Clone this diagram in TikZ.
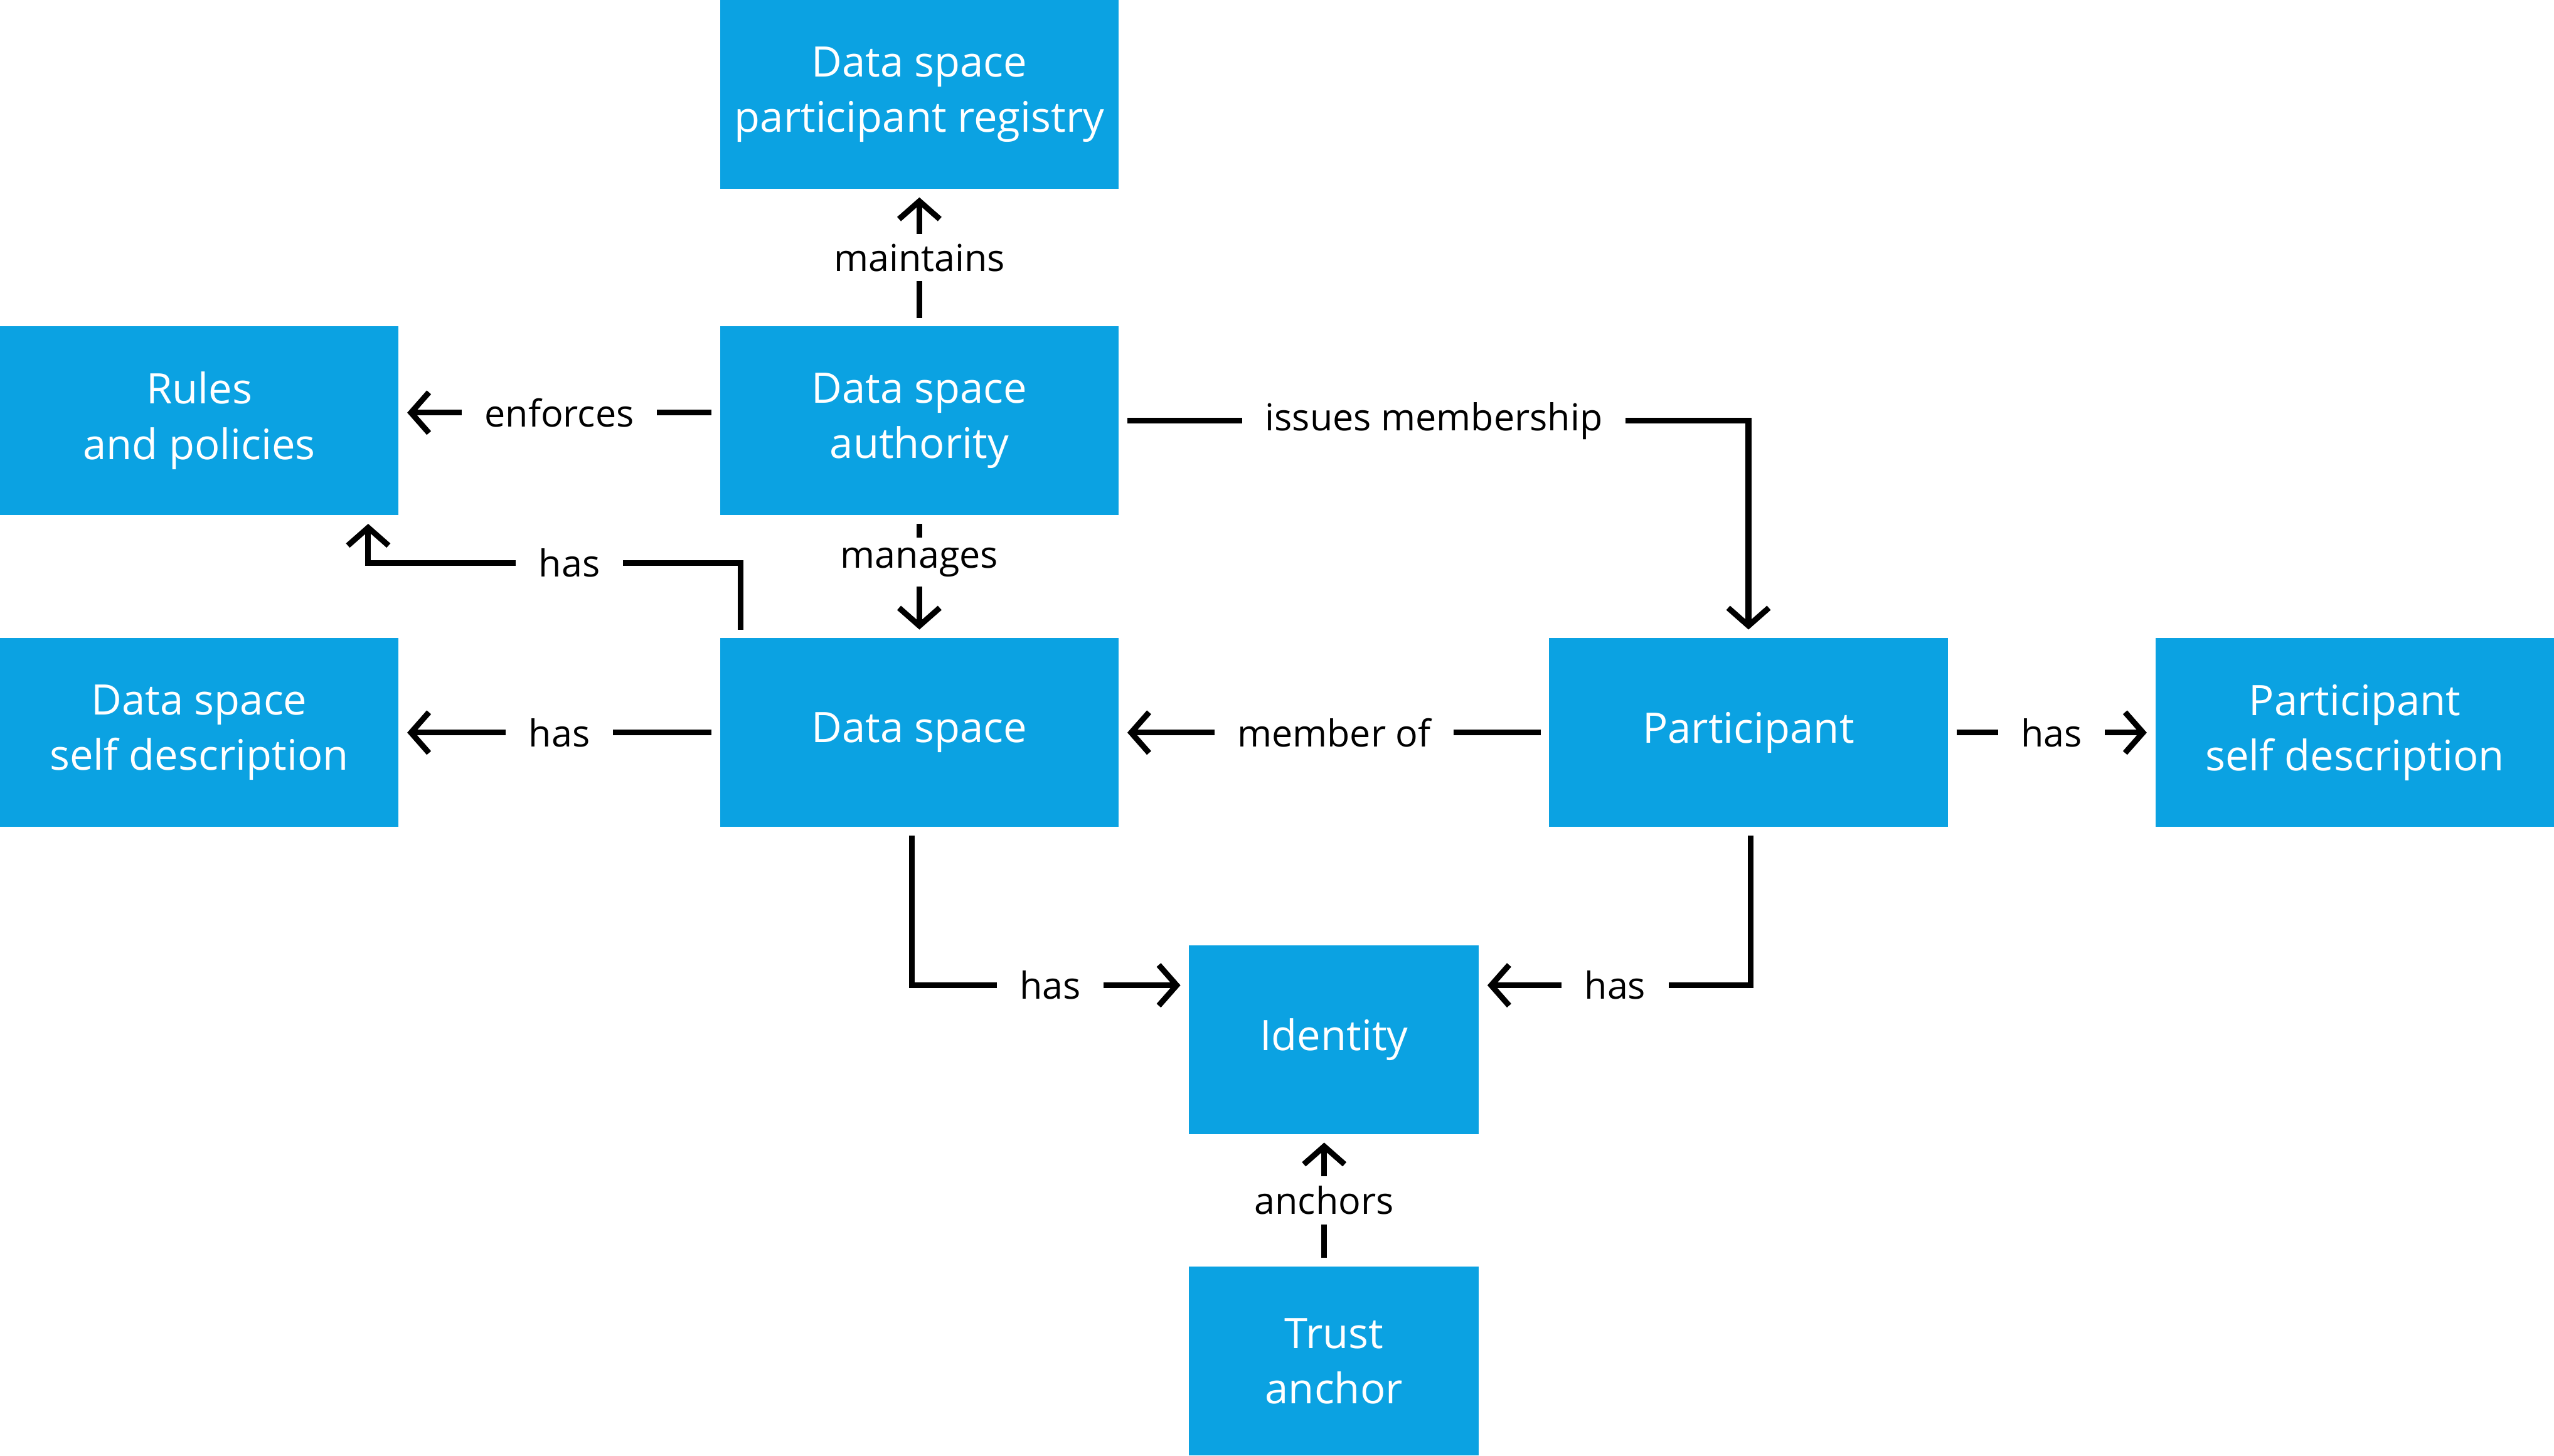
\documentclass[tikz,border=0pt]{standalone}
\usepackage{fontspec}
\setmainfont{Open Sans}
\usepackage{tikz}
\usetikzlibrary{positioning,arrows.meta,calc}
\usepackage{xcolor}
\definecolor{dsblue}{HTML}{0BA2E2}

\begin{document}
\begin{tikzpicture}[
    box/.style={fill=dsblue, text=white, minimum width=4.9cm, minimum height=2.32cm, inner sep=0pt, align=center, font=\fontsize{14.7}{19.4}\selectfont},
    smallbox/.style={box, minimum width=3.56cm},
    conn/.style={-{Straight Barb[length=0.22cm, width=0.5cm]}, line width=2pt, shorten >=0.1cm, shorten <=0.1cm},
    lbl/.style={fill=white, inner xsep=0.28cm, inner ysep=0.12cm, font=\fontsize{13}{15}\selectfont},
    node distance=1.5cm
]

\node[box] (auth) {Data space\\authority};
\node[box, above=1.68cm of auth] (reg) {Data space\\participant registry};
\node[box, left=3.94cm of auth] (rules) {Rules\\and policies};
\node[box, below=of auth] (ds) {Data space};
\node[box, left=3.94cm of ds] (dsdesc) {Data space\\self description};
\node[box, right=5.28cm of ds] (part) {Participant};
\node[box, right=2.54cm of part] (partdesc) {Participant\\self description};
\coordinate (mid) at ($(ds.south)!0.5!(part.south)$);
\node[smallbox, below=1.44cm of mid] (id) {Identity};
\node[smallbox, below=1.62cm of id] (trust) {Trust\\anchor};

\draw[conn] (auth) -- node[lbl] {maintains} (reg);
\draw[conn] ([yshift=0.1cm]auth.west) -- node[lbl] {enforces} ([yshift=0.1cm]rules.east);
\draw[conn] (auth) -- node[lbl, pos=0.38] {manages} (ds);
\draw[conn] (auth.east) -| node[lbl, pos=0.25] {issues membership} (part.north);

\draw[conn] ([xshift=0.26cm]ds.north west) -- ++(0,0.92cm) -| node[lbl, pos=0.23] {has} ([xshift=-0.38cm]rules.south east);
\draw[conn] (ds) -- node[lbl] {has} (dsdesc);
\draw[conn] (part) -- node[lbl] {member of} (ds);
\draw[conn] (part) -- node[lbl] {has} (partdesc);

\draw[conn] ([xshift=-0.09cm]ds.south) |- node[lbl, pos=0.75] {has} ([yshift=-0.5cm]id.north west);
\draw[conn] ([xshift=0.03cm]part.south) |- node[lbl, pos=0.75] {has} ([yshift=-0.5cm]id.north east);
\draw[conn] ([xshift=-0.12cm]trust.north) -- node[lbl] {anchors} ([xshift=-0.12cm]id.south);

\end{tikzpicture}
\end{document}
